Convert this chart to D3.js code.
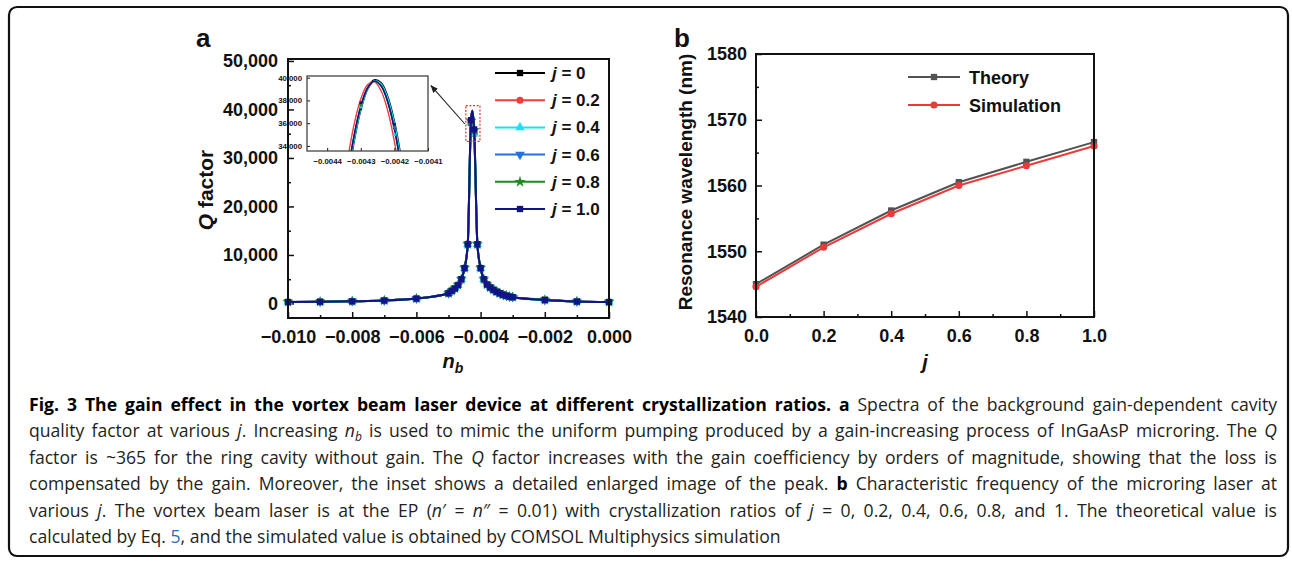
<!DOCTYPE html>
<html><head><meta charset="utf-8">
<script src="https://cdn.jsdelivr.net/npm/d3@7"></script>
<style>body{margin:0;background:#fff} svg{display:block}</style>
</head><body>
<svg id="c" width="1292" height="565"></svg>
<script>
// ---------------- DATA ----------------
// Panel a: Q factor vs background gain n_b for several crystallization ratios j
const seriesLabels = ["0", "0.2", "0.4", "0.6", "0.8", "1.0"];
const nb = [-0.010,-0.009,-0.008,-0.007,-0.006,-0.005,-0.0049,-0.0048,-0.0047,-0.0046,-0.0045,-0.0044,-0.0043,-0.0042,-0.0041,-0.0040,-0.0039,-0.0038,-0.0037,-0.0036,-0.0035,-0.0034,-0.0033,-0.0032,-0.0031,-0.0030,-0.002,-0.001,0.000];
const qJ0  = [300,350,450,600,1000,2100,2600,3100,3800,5000,7300,12200,37300,35600,12200,7300,5000,3900,3300,2800,2400,2100,1800,1600,1400,1300,800,400,300];
const qJ02 = [300,350,450,600,1000,2100,2600,3100,3800,5000,7300,12300,37600,35000,12000,7300,5000,3900,3300,2800,2400,2100,1800,1600,1400,1300,700,400,300];
const qJ04 = [300,350,450,600,1000,2100,2600,3100,3800,5000,7300,12200,37400,35000,12200,7300,5000,3900,3300,2800,2400,2100,1800,1600,1400,1300,700,400,300];
const qJ06 = [300,350,450,600,1000,2100,2600,3100,3800,5000,7300,12200,37600,35600,12200,7300,5000,3900,3300,2800,2400,2100,1800,1600,1400,1300,700,400,300];
const qJ08 = [300,350,450,600,1000,2100,2600,3100,3800,5000,7300,12200,37600,35700,12200,7300,5000,3900,3300,2800,2400,2100,1800,1600,1400,1300,700,400,300];
const qJ10 = [300,350,450,600,1000,2100,2600,3100,3800,5000,7300,12200,37800,35900,12200,7300,5000,3900,3300,2800,2400,2100,1800,1600,1400,1300,700,400,300];
// apex of each peak (line only)
const nbApex = [-0.004255,-0.004265,-0.004255,-0.004258,-0.004258,-0.004258];
const qApex  = [39800,39650,39750,39700,39680,39700];
// inset (enlarged peak)
const insetNb = [-0.00436,-0.00434,-0.00432,-0.0043,-0.00428,-0.00426,-0.00424,-0.00422,-0.0042,-0.00418,-0.00416];
const inJ0  = [26010,30760,34510,37270,39020,39770,39520,38270,36020,32760,28510];
const inJ02 = [28360,32610,35870,38120,39370,39650,38870,37120,34370,30620,25860];
const inJ04 = [25960,30710,34460,37220,38970,39720,39470,38220,35970,32710,28460];
const inJ06 = [26700,31300,34900,37500,39100,39700,39300,37900,35500,32100,27700];
const inJ08 = [26650,31250,34850,37450,39050,39680,39290,37880,35480,32080,27680];
const inJ10 = [26685,31290,34890,37490,39090,39700,39300,37890,35490,32090,27685];
const xTicksA = [-0.010,-0.008,-0.006,-0.004,-0.002,0.000];
const yTicksA = [0,10000,20000,30000,40000,50000];
const xTicksInset = [-0.0044,-0.0043,-0.0042,-0.0041];
const yTicksInset = [34000,36000,38000,40000];

// Panel b: resonance wavelength vs j
const jVals = [0, 0.2, 0.4, 0.6, 0.8, 1.0];
const theory = [1545.0, 1551.0, 1556.2, 1560.5, 1563.6, 1566.6];
const simulation = [1544.6, 1550.6, 1555.7, 1560.0, 1563.0, 1566.0];
const xTicksB = [0, 0.2, 0.4, 0.6, 0.8, 1.0];
const yTicksB = [1540, 1550, 1560, 1570, 1580];

// ---------------- STYLE ----------------
const colorsA = ["#000000", "#f23c3c", "#19e3f0", "#2173e0", "#1f8a1f", "#12128a"];
const symbolsA = ["square", "circle", "triUp", "triDown", "star", "square"];
const qSeries = [qJ0, qJ02, qJ04, qJ06, qJ08, qJ10];
const inSeries = [inJ0, inJ02, inJ04, inJ06, inJ08, inJ10];
const FONT = "'Liberation Sans', Arial, sans-serif";
const svg = d3.select("#c");

function symPath(kind, size) {
  const t = {square: d3.symbolSquare, circle: d3.symbolCircle, triUp: d3.symbolTriangle, triDown: d3.symbolTriangle, star: d3.symbolStar}[kind];
  return d3.symbol().type(t).size(size)();
}
function drawSym(g, kind, x, y, size, color) {
  g.append("path").attr("d", symPath(kind, size))
    .attr("transform", `translate(${x},${y})` + (kind === "triDown" ? " rotate(180)" : ""))
    .attr("fill", color);
}

// outer frame
svg.append("rect").attr("x", 9).attr("y", 7).attr("width", 1279).attr("height", 549)
  .attr("rx", 8).attr("fill", "none").attr("stroke", "#111").attr("stroke-width", 2.2);

// ---------------- PANEL A ----------------
const xA = d3.scaleLinear().domain([-0.010, 0]).range([288, 609]);
const yA = d3.scaleLinear().domain([-3000, 50400]).range([318, 59]);
const gA = svg.append("g");

function styleAxis(g, size) {
  g.select(".domain").remove();
  g.selectAll("text").attr("font-family", FONT).attr("font-weight", "bold").attr("font-size", size).attr("fill", "#111");
  g.selectAll("line").attr("stroke", "#111").attr("stroke-width", 1.5);
}
const fmtX = d => d3.format(".3f")(d).replace("-", "\u2212");
gA.append("g").attr("transform", `translate(0,${yA.range()[0]})`)
  .call(d3.axisBottom(xA).tickValues(xTicksA).tickSize(-6).tickPadding(12).tickFormat(fmtX))
  .call(g => styleAxis(g, 18));
gA.append("g").attr("transform", `translate(0,${yA.range()[0]})`)
  .call(d3.axisBottom(xA).tickValues(d3.range(-0.009, 0, 0.002)).tickSize(-3).tickFormat(""))
  .call(g => styleAxis(g, 18));
gA.append("g").attr("transform", `translate(${xA.range()[0]},0)`)
  .call(d3.axisLeft(yA).tickValues(yTicksA).tickSize(-6).tickPadding(10).tickFormat(d3.format(",")))
  .call(g => styleAxis(g, 18));
gA.append("g").attr("transform", `translate(${xA.range()[0]},0)`)
  .call(d3.axisLeft(yA).tickValues(d3.range(5000, 50000, 10000)).tickSize(-3).tickFormat(""))
  .call(g => styleAxis(g, 18));

// series
const lineA = d3.line().x(d => xA(d[0])).y(d => yA(d[1])).curve(d3.curveMonotoneX);
qSeries.forEach((q, s) => {
  const pts = nb.map((v, i) => [v, q[i]]);
  pts.push([nbApex[s], qApex[s]]);
  pts.sort((a, b) => a[0] - b[0]);
  gA.append("path").attr("d", lineA(pts)).attr("fill", "none")
    .attr("stroke", colorsA[s]).attr("stroke-width", 2);
  const mg = gA.append("g");
  nb.forEach((v, i) => drawSym(mg, symbolsA[s], xA(v), yA(q[i]), 38, colorsA[s]));
});

// frame of panel a
gA.append("rect").attr("x", xA.range()[0]).attr("y", yA.range()[1])
  .attr("width", xA.range()[1] - xA.range()[0]).attr("height", yA.range()[0] - yA.range()[1])
  .attr("fill", "none").attr("stroke", "#111").attr("stroke-width", 2);

// red dashed box around peak
gA.append("rect").attr("x", xA(-0.00446)).attr("y", yA(40800))
  .attr("width", xA(-0.00402) - xA(-0.00446)).attr("height", yA(33400) - yA(40800))
  .attr("fill", "none").attr("stroke", "#e8322f").attr("stroke-width", 1.2).attr("stroke-dasharray", "2,1.6");

// inset
const xI = d3.scaleLinear().domain([-0.00446, -0.0041]).range([307, 428]);
const yI = d3.scaleLinear().domain([33550, 40150]).range([151, 76]);
const gI = svg.append("g");
gI.append("clipPath").attr("id", "clipI").append("rect")
  .attr("x", xI.range()[0]).attr("y", yI.range()[1])
  .attr("width", xI.range()[1] - xI.range()[0]).attr("height", yI.range()[0] - yI.range()[1]);
const lineI = d3.line().x(d => xI(d[0])).y(d => yI(d[1])).curve(d3.curveCatmullRom);
const gIc = gI.append("g").attr("clip-path", "url(#clipI)");
inSeries.forEach((q, s) => {
  gIc.append("path").attr("d", lineI(insetNb.map((v, i) => [v, q[i]])))
    .attr("fill", "none").attr("stroke", colorsA[s]).attr("stroke-width", s === 0 ? 2.2 : 1.4);
});
qSeries.forEach((q, s) => {
  nb.forEach((v, i) => {
    if (v >= xI.domain()[0] && v <= xI.domain()[1] && q[i] >= yI.domain()[0] && q[i] <= yI.domain()[1])
      drawSym(gIc, symbolsA[s], xI(v), yI(q[i]), 7, colorsA[s]);
  });
});
gI.append("g").attr("transform", `translate(0,${yI.range()[0]})`)
  .call(d3.axisBottom(xI).tickValues(xTicksInset).tickSize(-3).tickPadding(7).tickFormat(d => d3.format(".4f")(d).replace("-", "\u2212")))
  .call(g => { styleAxis(g, 7.8); g.selectAll("line").attr("stroke-width", 1); });
gI.append("g").attr("transform", `translate(${xI.range()[0]},0)`)
  .call(d3.axisLeft(yI).tickValues(yTicksInset).tickSize(-3).tickPadding(5).tickFormat(d3.format(",")))
  .call(g => { styleAxis(g, 7.8); g.selectAll("line").attr("stroke-width", 1); });
gI.append("rect").attr("x", xI.range()[0]).attr("y", yI.range()[1])
  .attr("width", xI.range()[1] - xI.range()[0]).attr("height", yI.range()[0] - yI.range()[1])
  .attr("fill", "none").attr("stroke", "#444").attr("stroke-width", 1.3);

// arrow
svg.append("defs").append("marker").attr("id", "arr").attr("viewBox", "0 0 10 10")
  .attr("refX", 9).attr("refY", 5).attr("markerWidth", 7).attr("markerHeight", 7).attr("orient", "auto")
  .append("path").attr("d", "M0,1 L10,5 L0,9 Z").attr("fill", "#222");
svg.append("line").attr("x1", xA(-0.00446) - 1).attr("y1", yA(37000))
  .attr("x2", xI.range()[1] + 3).attr("y2", yI(39300))
  .attr("stroke", "#222").attr("stroke-width", 1.1).attr("marker-end", "url(#arr)");

// legend a
seriesLabels.forEach((lab, s) => {
  const y = 73 + s * 27.2;
  svg.append("line").attr("x1", 495).attr("x2", 545).attr("y1", y).attr("y2", y)
    .attr("stroke", colorsA[s]).attr("stroke-width", 2);
  drawSym(svg, symbolsA[s], 520, y, 40, colorsA[s]);
  const t = svg.append("text").attr("x", 552).attr("y", y + 6)
    .attr("font-family", FONT).attr("font-weight", "bold").attr("font-size", 17).attr("fill", "#111");
  t.append("tspan").attr("font-style", "italic").text("j");
  t.append("tspan").text(" = " + lab);
});

// axis titles a
{
  const t = svg.append("text").attr("text-anchor", "middle").attr("x", 453).attr("y", 368)
    .attr("font-family", FONT).attr("font-weight", "bold").attr("font-size", 20).attr("fill", "#111");
  t.append("tspan").attr("font-style", "italic").text("n");
  t.append("tspan").attr("font-style", "italic").attr("font-size", 14).attr("dy", 5).text("b");
  const t2 = svg.append("text").attr("text-anchor", "middle")
    .attr("transform", "translate(213,190) rotate(-90)")
    .attr("font-family", FONT).attr("font-weight", "bold").attr("font-size", 21).attr("fill", "#111");
  t2.append("tspan").attr("font-style", "italic").text("Q");
  t2.append("tspan").text(" factor");
}
svg.append("text").attr("x", 196).attr("y", 47).text("a")
  .attr("font-family", FONT).attr("font-weight", "bold").attr("font-size", 26).attr("fill", "#111");

// ---------------- PANEL B ----------------
const xB = d3.scaleLinear().domain([0, 1]).range([756, 1094]);
const yB = d3.scaleLinear().domain([1540, 1580]).range([317, 54]);
const gB = svg.append("g");
gB.append("g").attr("transform", `translate(0,${yB.range()[0]})`)
  .call(d3.axisBottom(xB).tickValues(xTicksB).tickSize(-6).tickPadding(12).tickFormat(d3.format(".1f")))
  .call(g => styleAxis(g, 18));
gB.append("g").attr("transform", `translate(0,${yB.range()[0]})`)
  .call(d3.axisBottom(xB).tickValues([0.1, 0.3, 0.5, 0.7, 0.9]).tickSize(-3).tickFormat(""))
  .call(g => styleAxis(g, 18));
gB.append("g").attr("transform", `translate(${xB.range()[0]},0)`)
  .call(d3.axisLeft(yB).tickValues(yTicksB).tickSize(-6).tickPadding(9).tickFormat(d3.format("d")))
  .call(g => styleAxis(g, 18));
gB.append("g").attr("transform", `translate(${xB.range()[0]},0)`)
  .call(d3.axisLeft(yB).tickValues([1545, 1555, 1565, 1575]).tickSize(-3).tickFormat(""))
  .call(g => styleAxis(g, 18));

const lineB = d3.line().x(d => xB(d[0])).y(d => yB(d[1]));
const seriesB = [
  {vals: theory, color: "#525252", sym: "square", name: "Theory"},
  {vals: simulation, color: "#ec3a3a", sym: "circle", name: "Simulation"}
];
seriesB.forEach(s => {
  gB.append("path").attr("d", lineB(jVals.map((j, i) => [j, s.vals[i]])))
    .attr("fill", "none").attr("stroke", s.color).attr("stroke-width", 2);
  jVals.forEach((j, i) => drawSym(gB, s.sym, xB(j), yB(s.vals[i]), 40, s.color));
});
gB.append("rect").attr("x", xB.range()[0]).attr("y", yB.range()[1])
  .attr("width", xB.range()[1] - xB.range()[0]).attr("height", yB.range()[0] - yB.range()[1])
  .attr("fill", "none").attr("stroke", "#111").attr("stroke-width", 2);
seriesB.forEach((s, k) => {
  const y = 77 + k * 28;
  svg.append("line").attr("x1", 908).attr("x2", 960).attr("y1", y).attr("y2", y)
    .attr("stroke", s.color).attr("stroke-width", 2);
  drawSym(svg, s.sym, 934, y, 40, s.color);
  svg.append("text").attr("x", 969).attr("y", y + 6.5).text(s.name)
    .attr("font-family", FONT).attr("font-weight", "bold").attr("font-size", 18).attr("fill", "#111");
});
svg.append("text").attr("x", 925).attr("y", 369).text("j").attr("text-anchor", "middle")
  .attr("font-family", FONT).attr("font-weight", "bold").attr("font-style", "italic").attr("font-size", 20).attr("fill", "#111");
svg.append("text").attr("text-anchor", "middle").attr("transform", "translate(692,182) rotate(-90)")
  .text("Resonance wavelength (nm)")
  .attr("font-family", FONT).attr("font-weight", "bold").attr("font-size", 19).attr("fill", "#111");
svg.append("text").attr("x", 674).attr("y", 47).text("b")
  .attr("font-family", FONT).attr("font-weight", "bold").attr("font-size", 26).attr("fill", "#111");

// ---------------- CAPTION ----------------
const CFONT = "'Open Sans', 'Noto Sans', sans-serif";
const capLines = [
  [{t: "Fig. 3 The gain effect in the vortex beam laser device at different crystallization ratios. a", b: 1}, {t: " Spectra of the background gain-dependent cavity"}],
  [{t: "quality factor at various "}, {t: "j", i: 1}, {t: ". Increasing "}, {t: "n", i: 1}, {t: "b", i: 1, sub: 1}, {t: " is used to mimic the uniform pumping produced by a gain-increasing process of InGaAsP microring. The "}, {t: "Q", i: 1}],
  [{t: "factor is ~365 for the ring cavity without gain. The "}, {t: "Q", i: 1}, {t: " factor increases with the gain coefficiency by orders of magnitude, showing that the loss is"}],
  [{t: "compensated by the gain. Moreover, the inset shows a detailed enlarged image of the peak. "}, {t: "b", b: 1}, {t: " Characteristic frequency of the microring laser at"}],
  [{t: "various "}, {t: "j", i: 1}, {t: ". The vortex beam laser is at the EP ("}, {t: "n", i: 1}, {t: "\u2032 = "}, {t: "n", i: 1}, {t: "\u2033 = 0.01) with crystallization ratios of "}, {t: "j", i: 1}, {t: " = 0, 0.2, 0.4, 0.6, 0.8, and 1. The theoretical value is"}],
  [{t: "calculated by Eq. "}, {t: "5", c: "#1f6fc0"}, {t: ", and the simulated value is obtained by COMSOL Multiphysics simulation"}]
];
const capX = 29, capRight = 1277, capY0 = 411, capDY = 26.4;
capLines.forEach((parts, li) => {
  const t = svg.append("text").attr("x", capX).attr("y", capY0 + li * capDY)
    .attr("font-family", CFONT).attr("font-size", 17.6).attr("fill", "#231f20");
  let shifted = false;
  parts.forEach(p => {
    const ts = t.append("tspan").text(p.t);
    if (p.b) ts.attr("font-weight", "bold").attr("fill", "#000");
    if (p.i) ts.attr("font-style", "italic");
    if (p.c) ts.attr("fill", p.c);
    if (p.sub) { ts.attr("font-size", 12).attr("dy", 4); shifted = true; }
    else if (shifted) { ts.attr("dy", -4); shifted = false; }
  });
  if (li < capLines.length - 1) {
    const len = t.node().getComputedTextLength();
    const nSpaces = parts.map(p => (p.t.match(/ /g) || []).length).reduce((a, b) => a + b, 0);
    t.attr("word-spacing", (capRight - capX - len) / nSpaces);
  }
});
</script>
</body></html>
